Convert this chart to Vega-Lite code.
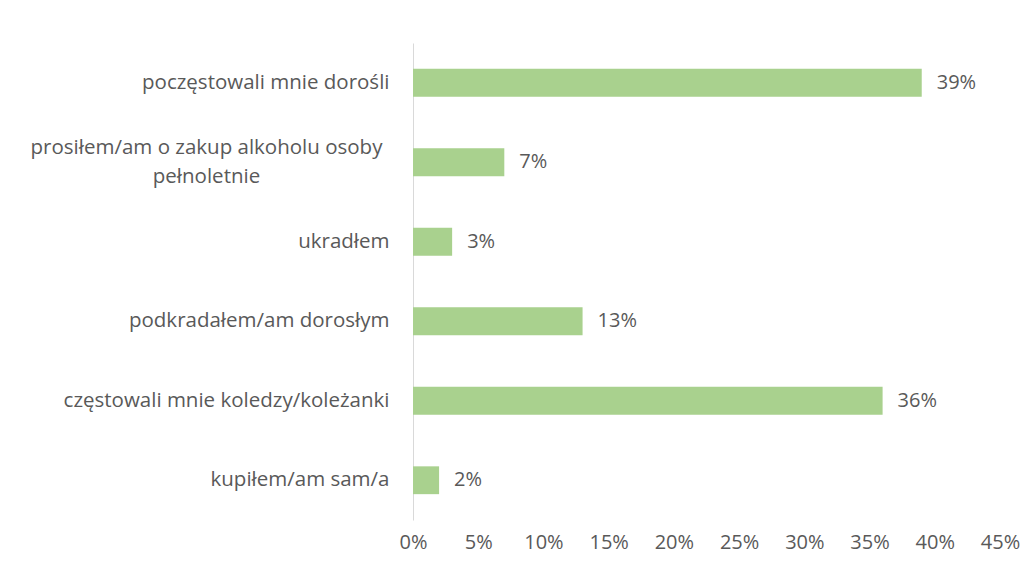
{
  "$schema": "https://vega.github.io/schema/vega-lite/v6.json",
  "width": 587,
  "height": 477,
  "autosize": {"type": "none"},
  "padding": {"left": 413, "top": 43, "right": 33, "bottom": 53},
  "background": "white",
  "config": {
    "view": {"stroke": null},
    "font": "Open Sans",
    "text": {"font": "Open Sans"}
  },
  "data": {
    "values": [
      {"kategoria": "poczęstowali mnie dorośli", "wartosc": 0.39},
      {"kategoria": "prosiłem/am o zakup alkoholu osoby pełnoletnie", "wartosc": 0.07},
      {"kategoria": "ukradłem", "wartosc": 0.03},
      {"kategoria": "podkradałem/am dorosłym", "wartosc": 0.13},
      {"kategoria": "częstowali mnie koledzy/koleżanki", "wartosc": 0.36},
      {"kategoria": "kupiłem/am sam/a", "wartosc": 0.02}
    ]
  },
  "encoding": {
    "y": {
      "field": "kategoria",
      "type": "nominal",
      "sort": null,
      "scale": {"paddingInner": 0.65, "paddingOuter": 0.325},
      "axis": {
        "title": null,
        "ticks": false,
        "domainColor": "#D9D9D9",
        "domainWidth": 1,
        "labelFont": "Open Sans",
        "labelFontSize": 20.5,
        "labelColor": "#595959",
        "labelLimit": 500,
        "labelLineHeight": 29,
        "labelAlign": {"condition": {"test": "datum.value == 'prosiłem/am o zakup alkoholu osoby pełnoletnie'", "value": "center"}, "value": "right"},
        "labelPadding": {"condition": {"test": "datum.value == 'prosiłem/am o zakup alkoholu osoby pełnoletnie'", "value": 207}, "value": 24},
        "labelOffset": {"condition": {"test": "datum.value == 'prosiłem/am o zakup alkoholu osoby pełnoletnie'", "value": -14.5}, "value": 0},
        "labelExpr": "datum.value == 'prosiłem/am o zakup alkoholu osoby pełnoletnie' ? ['prosiłem/am o zakup alkoholu osoby', 'pełnoletnie'] : datum.value"
      }
    },
    "x": {
      "field": "wartosc",
      "type": "quantitative",
      "scale": {"domain": [0, 0.45], "nice": false},
      "axis": {
        "title": null,
        "format": ".0%",
        "values": [0, 0.05, 0.1, 0.15, 0.2, 0.25, 0.3, 0.35, 0.4, 0.45],
        "grid": false,
        "ticks": false,
        "domain": false,
        "labelFont": "Open Sans",
        "labelFontSize": 20,
        "labelColor": "#595959",
        "labelPadding": 12,
        "labelFlush": false
      }
    }
  },
  "layer": [
    {"mark": {"type": "bar", "color": "#A9D18E"}},
    {
      "mark": {"type": "text", "align": "left", "dx": 15, "fontSize": 20, "color": "#595959", "font": "Open Sans"},
      "encoding": {"text": {"field": "wartosc", "type": "quantitative", "format": ".0%"}}
    }
  ]
}
